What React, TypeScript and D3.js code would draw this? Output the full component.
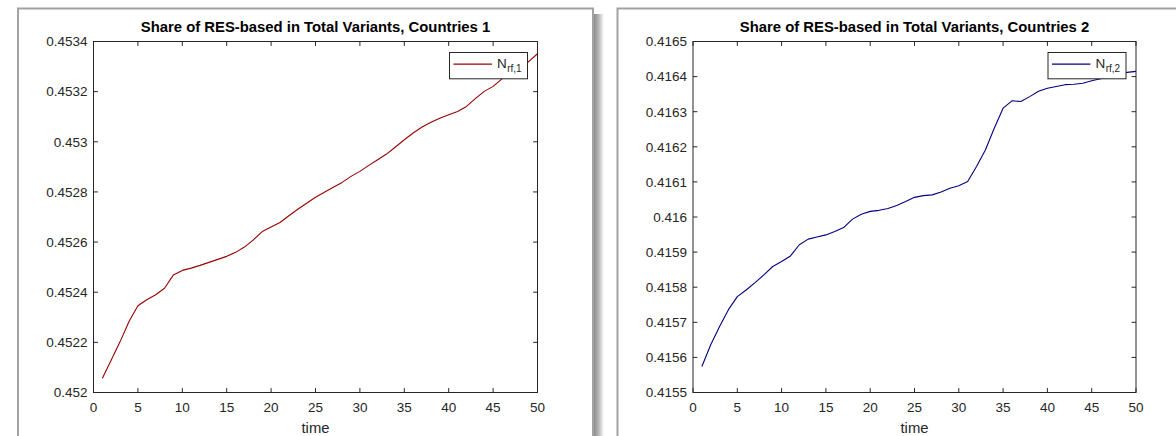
import React from "react";
import * as d3 from "d3";

// Simulation period index
const timeSteps = [
  1, 2, 3, 4, 5, 6, 7, 8, 9, 10, 11, 12, 13, 14, 15, 16, 17, 18, 19, 20, 21, 22, 23, 24, 25,
  26, 27, 28, 29, 30, 31, 32, 33, 34, 35, 36, 37, 38, 39, 40, 41, 42, 43, 44, 45, 46, 47, 48, 49, 50,
];

// Share of RES-based variants, country 1
const shareCountry1 = [
  0.452057, 0.45213, 0.452203, 0.452283, 0.452346, 0.45237, 0.45239, 0.452416, 0.452469, 0.452487,
  0.452496, 0.452507, 0.452519, 0.452531, 0.452543, 0.452559, 0.45258, 0.452609, 0.452642, 0.45266,
  0.452678, 0.452705, 0.452731, 0.452755, 0.452779, 0.452799, 0.452819, 0.452838, 0.452862, 0.452882,
  0.452906, 0.452928, 0.452951, 0.452979, 0.453008, 0.453035, 0.453059, 0.453078, 0.453094, 0.453108,
  0.453121, 0.453141, 0.453172, 0.453201, 0.453221, 0.453251, 0.453274, 0.453294, 0.45332, 0.453351,
];

// Share of RES-based variants, country 2
const shareCountry2 = [
  0.415574, 0.415636, 0.415688, 0.415736, 0.415773, 0.415792, 0.415813, 0.415835, 0.415859, 0.415873,
  0.415889, 0.415921, 0.415937, 0.415943, 0.415949, 0.415959, 0.41597, 0.415994, 0.416008, 0.416016,
  0.416019, 0.416024, 0.416033, 0.416044, 0.416056, 0.416061, 0.416063, 0.416071, 0.416082, 0.416089,
  0.416101, 0.416144, 0.416191, 0.416253, 0.41631, 0.416331, 0.416329, 0.416343, 0.416358, 0.416367,
  0.416372, 0.416377, 0.416378, 0.416381, 0.416388, 0.416394, 0.416398, 0.416405, 0.416412, 0.416415,
];

const xTicks = [0, 5, 10, 15, 20, 25, 30, 35, 40, 45, 50];
const yTicks1 = [0.452, 0.4522, 0.4524, 0.4526, 0.4528, 0.453, 0.4532, 0.4534];
const yTicks2 = [
  0.4155, 0.4156, 0.4157, 0.4158, 0.4159, 0.416, 0.4161, 0.4162, 0.4163, 0.4164, 0.4165,
];

const titles = [
  "Share of RES-based in Total Variants, Countries 1",
  "Share of RES-based in Total Variants, Countries 2",
];
const legendSubs = ["rf,1", "rf,2"];
const xLabel = "time";

const FONT = "'Liberation Sans', Arial, Helvetica, sans-serif";
const INK = "#262626";
const BASE = 13.5;
const BIG = 14.85;
const TICK = 4.4;

type PanelProps = {
  left: number;
  right: number;
  top: number;
  bottom: number;
  values: number[];
  yTicks: number[];
  title: string;
  sub: string;
  color: string;
};

function Panel({ left, right, top, bottom, values, yTicks, title, sub, color }: PanelProps) {
  const x = d3.scaleLinear().domain([0, 50]).range([left, right]);
  const y = d3
    .scaleLinear()
    .domain([yTicks[0], yTicks[yTicks.length - 1]])
    .range([bottom, top]);
  const line = d3
    .line<number>()
    .x((_, i) => x(timeSteps[i]))
    .y((d) => y(d));

  const cx = (left + right) / 2;
  const legW = 78;
  const legH = 26.3;
  const legX = right - 10 - legW;
  const legY = top + 11;
  const fmt = (v: number) => String(+v.toFixed(4));

  return (
    <g>
      {/* plot area */}
      <rect x={left} y={top} width={right - left} height={bottom - top} fill="#ffffff" />

      {/* data */}
      <path d={line(values) ?? ""} fill="none" stroke={color} strokeWidth={1.1} strokeLinejoin="round" />

      {/* box */}
      <rect
        x={left}
        y={top}
        width={right - left}
        height={bottom - top}
        fill="none"
        stroke={INK}
        strokeWidth={1}
      />

      {/* x ticks, bottom and top */}
      {xTicks.map((t) => (
        <g key={"x" + t}>
          <line x1={x(t)} x2={x(t)} y1={bottom} y2={bottom - TICK} stroke={INK} strokeWidth={1} />
          <line x1={x(t)} x2={x(t)} y1={top} y2={top + TICK} stroke={INK} strokeWidth={1} />
          <text
            x={x(t)}
            y={bottom + 19}
            textAnchor="middle"
            fontFamily={FONT}
            fontSize={BASE}
            fill={INK}
          >
            {t}
          </text>
        </g>
      ))}

      {/* y ticks, left and right */}
      {yTicks.map((t) => (
        <g key={"y" + t}>
          <line x1={left} x2={left + TICK} y1={y(t)} y2={y(t)} stroke={INK} strokeWidth={1} />
          <line x1={right} x2={right - TICK} y1={y(t)} y2={y(t)} stroke={INK} strokeWidth={1} />
          <text
            x={left - 6}
            y={y(t) + 4.8}
            textAnchor="end"
            fontFamily={FONT}
            fontSize={BASE}
            fill={INK}
          >
            {fmt(t)}
          </text>
        </g>
      ))}

      {/* title and axis label */}
      <text
        x={cx}
        y={top - 9.2}
        textAnchor="middle"
        fontFamily={FONT}
        fontSize={BIG}
        fontWeight="bold"
        fill="#000000"
      >
        {title}
      </text>
      <text x={cx} y={bottom + 40.5} textAnchor="middle" fontFamily={FONT} fontSize={BIG} fill={INK}>
        {xLabel}
      </text>

      {/* legend */}
      <rect x={legX} y={legY} width={legW} height={legH} fill="#ffffff" stroke={INK} strokeWidth={1} />
      <line
        x1={legX + 4}
        x2={legX + 42.4}
        y1={legY + 11.6}
        y2={legY + 11.6}
        stroke={color}
        strokeWidth={1.1}
      />
      <text x={legX + 47.4} y={legY + 15} fontFamily={FONT} fontSize={BASE} fill={INK}>
        N
        <tspan fontSize={10} dy={4.5} dx={0.5}>
          {sub}
        </tspan>
      </text>
    </g>
  );
}

export default function App() {
  const W = 1176;
  const H = 436;
  return (
    <svg
      width={W}
      height={H}
      viewBox={`0 0 ${W} ${H}`}
      style={{ position: "absolute", left: 0, top: 0, background: "#ffffff" }}
    >
      <defs>
        <linearGradient id="winShadow" x1="0" x2="1" y1="0" y2="0">
          <stop offset="0" stopColor="#8c8c8c" />
          <stop offset="0.45" stopColor="#b4b4b4" />
          <stop offset="1" stopColor="#ffffff" />
        </linearGradient>
      </defs>
      <rect x={0} y={0} width={W} height={H} fill="#ffffff" />

      {/* first figure window */}
      <rect x={594} y={14} width={10} height={H} fill="url(#winShadow)" />
      <rect x={18} y={8.5} width={575} height={H + 20} fill="#ffffff" stroke="#a2a2a2" strokeWidth={2} />

      {/* second figure window */}
      <rect x={617.5} y={8.5} width={600} height={H + 20} fill="#ffffff" stroke="#a2a2a2" strokeWidth={2} />

      <Panel
        left={93.5}
        right={537.5}
        top={41.5}
        bottom={392.5}
        values={shareCountry1}
        yTicks={yTicks1}
        title={titles[0]}
        sub={legendSubs[0]}
        color="#9a0000"
      />
      <Panel
        left={693}
        right={1136}
        top={41.5}
        bottom={392.5}
        values={shareCountry2}
        yTicks={yTicks2}
        title={titles[1]}
        sub={legendSubs[1]}
        color="#000080"
      />
    </svg>
  );
}
